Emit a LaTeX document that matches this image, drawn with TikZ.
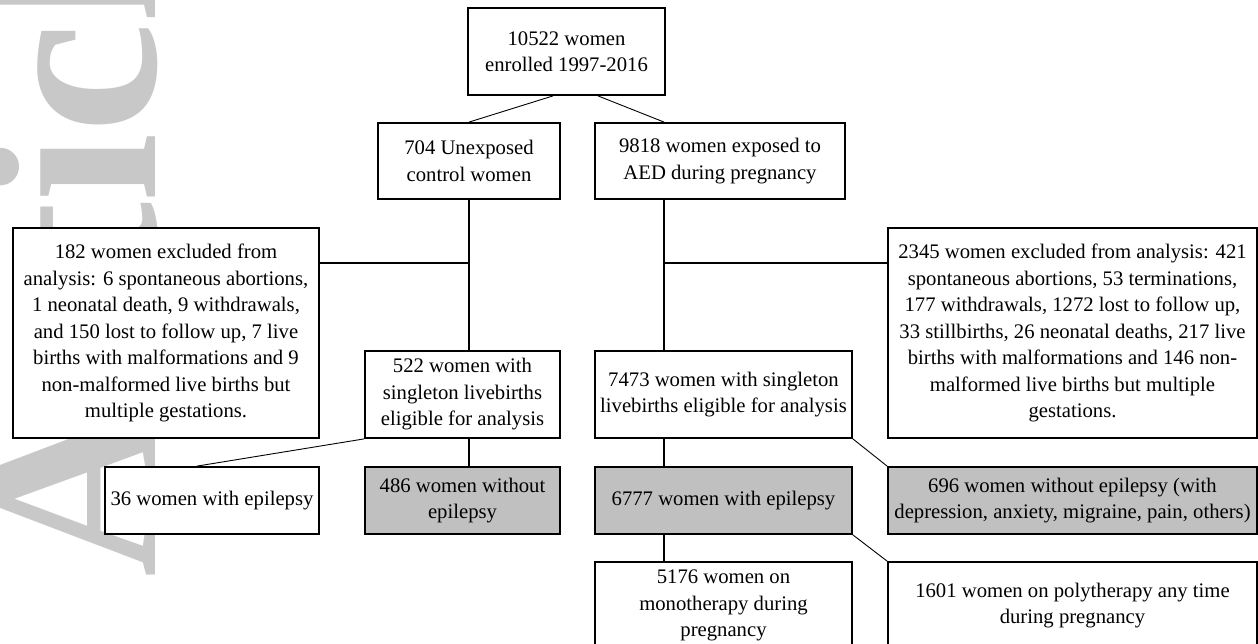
\documentclass[tikz,border=0pt]{standalone}
\usepackage{fontspec}
\setmainfont{Liberation Serif}
\definecolor{boxgrey}{RGB}{192,192,192}
\definecolor{wmgrey}{RGB}{200,200,200}
\tikzset{
  box/.style={draw=black, line width=1.8pt, fill=white, align=center, inner sep=0pt,
              font=\fontsize{20.7}{26.5}\selectfont},
  greybox/.style={box, fill=boxgrey},
  link/.style={line width=1.3pt},
  slant/.style={line width=0.9pt},
  watermark/.style={rotate=90, anchor=base west, inner sep=0pt, text=wmgrey,
              font=\fontsize{250}{250}\selectfont\bfseries}
}
\begin{document}
\begin{tikzpicture}[x=1pt,y=-1pt]
\useasboundingbox (0,0) rectangle (1258,643);
\node[watermark] (wm) at (155,577.5) {Article};

\node[box, minimum width=197pt, minimum height=87pt] (top) at (566.5,51.5) {10522 women\\enrolled 1997-2016};
\node[box, minimum width=182pt, minimum height=76pt] (n704) at (469,161) {704 Unexposed\\control women};
\node[box, minimum width=250pt, minimum height=76pt] (n9818) at (720,161) {9818 women exposed to\\AED during pregnancy};
\node[box, minimum width=306pt, minimum height=210pt] (n182) at (166,333) {182 women excluded from\\analysis: 6 spontaneous abortions,\\1 neonatal death, 9 withdrawals,\\and 150 lost to follow up, 7 live\\births with malformations and 9\\non-malformed live births but\\multiple gestations.};
\node[box, minimum width=369pt, minimum height=210pt] (n2345) at (1072.5,333) {2345 women excluded from analysis: 421\\spontaneous abortions, 53 terminations,\\177 withdrawals, 1272 lost to follow up,\\33 stillbirths, 26 neonatal deaths, 217 live\\births with malformations and 146 non-\\malformed live births but multiple\\gestations.};
\node[box, minimum width=195pt, minimum height=87pt] (n522) at (462.5,394.5) {522 women with\\singleton livebirths\\eligible for analysis};
\node[box, minimum width=257pt, minimum height=87pt] (n7473) at (723.5,394.5) {7473 women with singleton\\livebirths eligible for analysis};
\node[box, minimum width=214pt, minimum height=67pt] (n36) at (212,500.5) {36 women with epilepsy};
\node[greybox, minimum width=195pt, minimum height=67pt] (n486) at (462.5,500.5) {486 women without\\epilepsy};
\node[greybox, minimum width=257pt, minimum height=67pt] (n6777) at (723.5,500.5) {6777 women with epilepsy};
\node[greybox, minimum width=369pt, minimum height=67pt] (n696) at (1072.5,500.5) {696 women without epilepsy (with\\depression, anxiety, migraine, pain, others)};
\node[box, minimum width=257pt, minimum height=87pt] (n5176) at (723.5,605.5) {5176 women on\\monotherapy during\\pregnancy};
\node[box, minimum width=369pt, minimum height=87pt] (n1601) at (1072.5,605.5) {1601 women on polytherapy any time\\during pregnancy};

\coordinate (sr) at ([xshift=70pt]n7473.north west);
\coordinate (jl) at ([yshift=70pt]n182.east);
\coordinate (jr) at ([yshift=70pt]n2345.west);

\draw[slant] ([xshift=-13.5pt]top.south) -- (n704.north);
\draw[slant] ([xshift=31.5pt]top.south) -- ([xshift=70pt]n9818.north west);
\draw[link] (n704.south) -- (n704.south |- n522.north);
\draw[link] (jl) -- (jl -| n704.south);
\draw[link] ([xshift=70pt]n9818.south west) -- (sr);
\draw[link] (jr) -- (jr -| sr);
\draw[slant] (n522.south west) -- ([xshift=-15pt]n36.north);
\draw[link] (n704.south |- n522.south) -- (n704.south |- n486.north);
\draw[link] (sr |- n7473.south) -- (sr |- n6777.north);
\draw[slant] (n7473.south east) -- (n696.north west);
\draw[link] (sr |- n6777.south) -- (sr |- n5176.north);
\draw[slant] (n6777.south east) -- (n1601.north west);
\end{tikzpicture}
\end{document}
